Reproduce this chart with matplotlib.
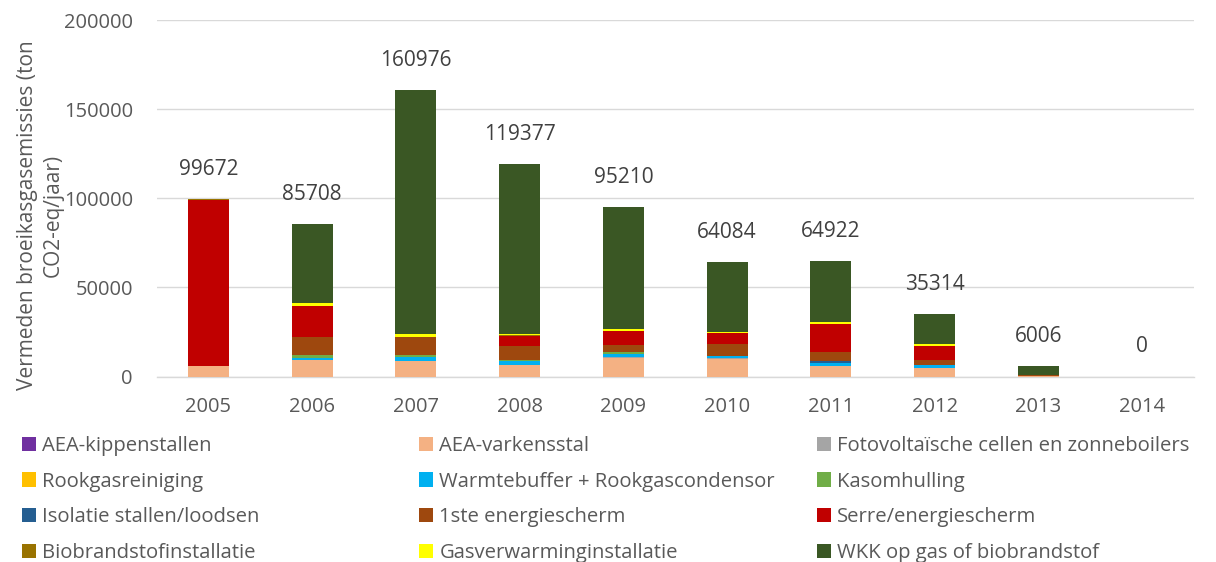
import matplotlib
matplotlib.use("Agg")
import matplotlib.pyplot as plt
import numpy as np
from matplotlib.patches import Patch

plt.rcParams['font.family'] = ['Open Sans', 'DejaVu Sans']

years = ['2005', '2006', '2007', '2008', '2009', '2010', '2011', '2012', '2013', '2014']
totals = [99672, 85708, 160976, 119377, 95210, 64084, 64922, 35314, 6006, 0]

series_names = [
    'AEA-kippenstallen', 'AEA-varkensstal', 'Fotovoltaïsche cellen en zonneboilers',
    'Rookgasreiniging', 'Warmtebuffer + Rookgascondensor', 'Kasomhulling',
    'Isolatie stallen/loodsen', '1ste energiescherm', 'Serre/energiescherm',
    'Biobrandstofinstallatie', 'Gasverwarminginstallatie', 'WKK op gas of biobrandstof',
]
aea_kippen = [0, 0, 0, 0, 0, 0, 0, 0, 0, 0]
aea_varkens = [6000, 9300, 8800, 6300, 10300, 9900, 6000, 4700, 500, 0]
fotovoltaisch = [0, 0, 0, 300, 900, 300, 0, 300, 0, 0]
rookgasreiniging = [0, 0, 0, 0, 0, 0, 0, 0, 0, 0]
warmtebuffer = [0, 1300, 1900, 2200, 1700, 1500, 1500, 1400, 0, 0]
kasomhulling = [0, 1300, 1300, 500, 600, 0, 0, 0, 0, 0]
isolatie = [0, 0, 0, 0, 0, 0, 1100, 300, 0, 0]
energiescherm1 = [0, 10100, 10400, 7700, 4300, 6300, 4900, 2800, 400, 0]
serre = [93072, 17500, 0, 5600, 7500, 6200, 15700, 7700, 0, 0]
biobrandstof = [600, 0, 0, 700, 300, 0, 0, 0, 0, 0]
gasverwarming = [0, 1500, 1500, 800, 900, 700, 1300, 900, 0, 0]
wkk = [0, 44708, 137076, 95277, 68710, 39184, 34422, 17214, 5106, 0]

series = [aea_kippen, aea_varkens, fotovoltaisch, rookgasreiniging, warmtebuffer,
          kasomhulling, isolatie, energiescherm1, serre, biobrandstof, gasverwarming, wkk]
colors = ['#7030A0', '#F4B183', '#A5A5A5', '#FFC000', '#00B0F0', '#70AD47',
          '#255E91', '#9E480E', '#C00000', '#997300', '#FFFF00', '#3A5724']

W, H = 1216, 562
fig = plt.figure(figsize=(W / 100, H / 100), dpi=100)
ax_l, ax_r, ax_t, ax_b = 156.6, 1194.0, 20.0, 376.5
ax = fig.add_axes([ax_l / W, 1 - ax_b / H, (ax_r - ax_l) / W, (ax_b - ax_t) / H])

x = np.arange(len(years))
bottom = np.zeros(len(years))
for vals, col, name in zip(series, colors, series_names):
    v = np.array(vals, dtype=float)
    ax.bar(x, v, width=0.395, bottom=bottom, color=col, label=name, zorder=3)
    bottom += v

for xi, t in zip(x, totals):
    ax.annotate(str(t), (xi, t), xytext=(0, 17.3), textcoords='offset points',
                ha='center', va='baseline', fontsize=15, color='#404040')

ax.set_ylim(0, 200000)
ax.set_xlim(-0.5, len(years) - 0.5)
ax.set_yticks(range(0, 200001, 50000))
ax.set_xticks(x)
ax.set_xticklabels(years)
ax.tick_params(axis='both', length=0, labelsize=14.5, colors='#595959')
ax.tick_params(axis='y', pad=17)
ax.tick_params(axis='x', pad=15)
ax.yaxis.grid(True, color='#D9D9D9', linewidth=1, zorder=0)
for s in ['top', 'right', 'left']:
    ax.spines[s].set_visible(False)
ax.spines['bottom'].set_color('#D9D9D9')
ax.spines['bottom'].set_linewidth(1)

fig.text(40 / W, 1 - 215 / H, 'Vermeden broeikasgasemissies (ton\nCO2-eq/jaar)',
         rotation=90, ha='center', va='center', multialignment='center',
         fontsize=15, color='#595959', linespacing=1.3)

# legend: three columns placed separately
col_x = [22, 419, 817]
for c in range(3):
    handles = [Patch(facecolor=colors[r * 3 + c], label=series_names[r * 3 + c]) for r in range(4)]
    fig.legend(handles=handles, loc='center left', bbox_to_anchor=(col_x[c] / W, 1 - 499.5 / H),
               frameon=False, fontsize=14.6, handlelength=0.7, handleheight=0.7,
               handletextpad=0.3, labelspacing=0.77, borderaxespad=0, borderpad=0,
               labelcolor='#595959')

fig.savefig('out.png', dpi=100)
